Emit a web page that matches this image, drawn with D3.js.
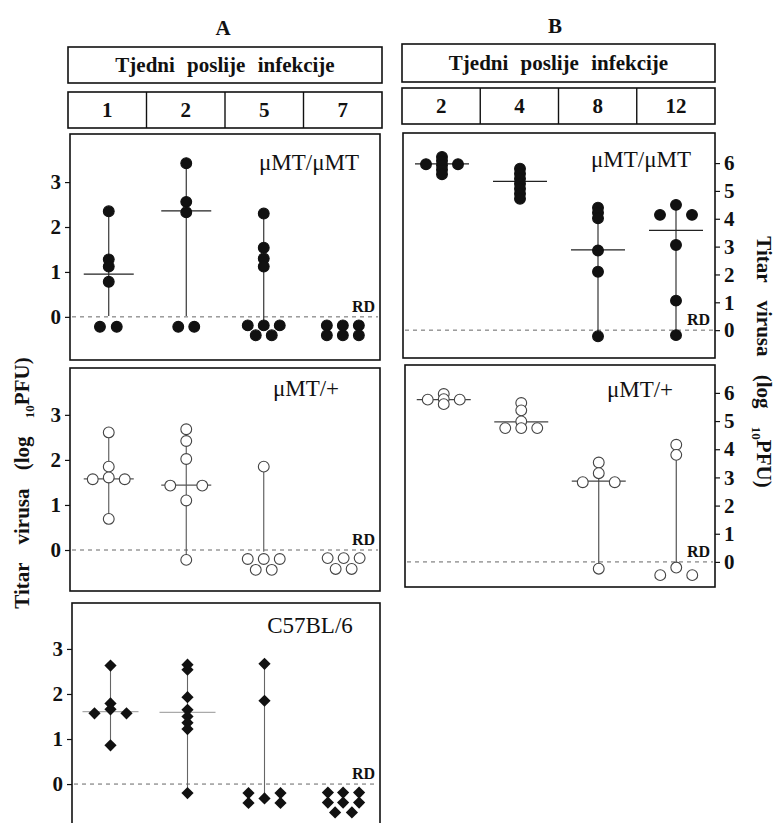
<!DOCTYPE html>
<html><head><meta charset="utf-8">
<script src="https://cdn.jsdelivr.net/npm/d3@7"></script>
<style>
body{margin:0;background:#fff}
svg{display:block}
text{font-family:"Liberation Serif","Times New Roman",serif;fill:#111}
</style>
</head><body>
<svg id="chart" width="779" height="823"></svg>
<script>
// ---------------- data ----------------
const weeksA = ["1", "2", "5", "7"];
const weeksB = ["2", "4", "8", "12"];
const ticksA = [0, 1, 2, 3];
const ticksB = [0, 1, 2, 3, 4, 5, 6];
const headerText = "Tjedni poslije infekcije";

// points: [week, log10 PFU, column offset]
const a1Points = [
  ["1", 2.35, 0], ["1", 1.28, 0], ["1", 1.12, 0], ["1", 0.78, 0], ["1", -0.22, -0.55], ["1", -0.22, 0.5],
  ["2", 3.42, 0], ["2", 2.56, 0], ["2", 2.33, 0], ["2", -0.22, -0.5], ["2", -0.22, 0.5],
  ["5", 2.30, 0], ["5", 1.54, 0], ["5", 1.30, 0], ["5", 1.12, 0],
  ["5", -0.19, -1], ["5", -0.19, 0], ["5", -0.19, 1], ["5", -0.41, -0.5], ["5", -0.41, 0.5],
  ["7", -0.19, -0.9], ["7", -0.19, 0.1], ["7", -0.19, 1.1], ["7", -0.41, -0.9], ["7", -0.41, 0.1], ["7", -0.41, 1.1]
];
const a1Medians = [["1", 0.95], ["2", 2.36]];
const a1Ranges = [["1", 2.35, 0.02], ["2", 3.42, 0.02], ["5", 2.30, -0.19]];

const a2Points = [
  ["1", 2.61, 0], ["1", 1.85, 0], ["1", 1.61, 0], ["1", 1.57, -1], ["1", 1.57, 1], ["1", 0.69, 0],
  ["2", 2.68, 0], ["2", 2.42, 0], ["2", 2.02, 0], ["2", 1.43, -1], ["2", 1.43, 1], ["2", 1.10, 0], ["2", -0.22, 0],
  ["5", 1.85, 0], ["5", -0.20, -1], ["5", -0.20, 0], ["5", -0.20, 1], ["5", -0.44, -0.5], ["5", -0.44, 0.5],
  ["7", -0.18, -0.85], ["7", -0.18, 0.15], ["7", -0.18, 1.15], ["7", -0.42, -0.35], ["7", -0.42, 0.65]
];
const a2Medians = [["1", 1.58], ["2", 1.44]];
const a2Ranges = [["1", 2.61, 0.69], ["2", 2.68, -0.22], ["5", 1.85, -0.04]];

const a3Points = [
  ["1", 2.63, 0], ["1", 1.79, 0], ["1", 1.66, 0], ["1", 1.57, -1], ["1", 1.57, 1], ["1", 0.86, 0],
  ["2", 2.65, 0], ["2", 2.54, 0], ["2", 1.93, 0], ["2", 1.65, 0], ["2", 1.50, 0], ["2", 1.36, 0], ["2", 1.22, 0], ["2", -0.20, 0],
  ["5", 2.67, 0], ["5", 1.85, 0], ["5", -0.20, -1], ["5", -0.42, -1], ["5", -0.32, 0], ["5", -0.20, 1], ["5", -0.42, 1],
  ["7", -0.19, -0.85], ["7", -0.19, 0.1], ["7", -0.19, 1.1], ["7", -0.41, -0.85], ["7", -0.41, 0.1], ["7", -0.41, 1.1],
  ["7", -0.63, -0.4], ["7", -0.63, 0.65]
];
const a3Medians = [["1", 1.61], ["2", 1.59]];
const a3Ranges = [["1", 2.63, 0.86], ["2", 2.65, -0.20], ["5", 2.67, -0.32]];

const b1Points = [
  ["2", 6.22, 0], ["2", 6.08, 0], ["2", 5.92, 0], ["2", 5.76, 0], ["2", 5.60, 0], ["2", 5.96, -1], ["2", 5.96, 1],
  ["4", 5.80, 0], ["4", 5.62, 0], ["4", 5.44, 0], ["4", 5.26, 0], ["4", 5.08, 0], ["4", 4.90, 0], ["4", 4.72, 0],
  ["8", 4.40, 0], ["8", 4.22, 0], ["8", 4.02, 0], ["8", 2.86, 0], ["8", 2.10, 0], ["8", -0.22, 0],
  ["12", 4.50, 0], ["12", 4.14, -1], ["12", 4.14, 1], ["12", 3.06, 0], ["12", 1.06, 0], ["12", -0.18, 0]
];
const b1Medians = [["2", 5.97], ["4", 5.34], ["8", 2.88], ["12", 3.58]];
const b1Ranges = [["8", 4.40, -0.22], ["12", 4.50, -0.18]];

const b2Points = [
  ["2", 5.96, 0], ["2", 5.78, 0], ["2", 5.60, 0], ["2", 5.76, -1], ["2", 5.76, 1],
  ["4", 5.64, 0], ["4", 5.38, 0], ["4", 4.99, 0], ["4", 4.75, 0], ["4", 4.75, -1], ["4", 4.75, 1],
  ["8", 3.53, 0], ["8", 3.15, 0], ["8", 2.83, -1], ["8", 2.83, 1], ["8", -0.24, 0],
  ["12", 4.16, 0], ["12", 3.80, 0], ["12", -0.20, 0], ["12", -0.47, -1], ["12", -0.47, 1]
];
const b2Medians = [["2", 5.76], ["4", 4.97], ["8", 2.87]];
const b2Ranges = [["8", 3.53, -0.24], ["12", 3.80, -0.20]];

// ---------------- layout ----------------
const panels = [
  {weeks: weeksA, x0: 70, x1: 380, y0: 134, y1: 360, dom: [-0.96, 4.07], ticks: ticksA, side: "left",
   label: "\u03bcMT/\u03bcMT", lx: 309, ly: 170, marker: "filled", pts: a1Points, med: a1Medians, rng: a1Ranges, medHW: 25, lineCol: "#222"},
  {weeks: weeksA, x0: 70, x1: 380, y0: 368, y1: 591, dom: [-0.91, 4.04], ticks: ticksA, side: "left",
   label: "\u03bcMT/+", lx: 306, ly: 396, marker: "open", pts: a2Points, med: a2Medians, rng: a2Ranges, medHW: 25, lineCol: "#555"},
  {weeks: weeksA, x0: 72, x1: 380, y0: 603, y1: 830, dom: [-1.02, 4.02], ticks: ticksA, side: "left",
   label: "C57BL/6", lx: 310, ly: 633, marker: "diamond", pts: a3Points, med: a3Medians, rng: a3Ranges, medHW: 28, lineCol: "#666", medCol: "#aaa"},
  {weeks: weeksB, x0: 403, x1: 715, y0: 133, y1: 358, dom: [-1.0, 7.08], ticks: ticksB, side: "right",
   label: "\u03bcMT/\u03bcMT", lx: 641, ly: 167, marker: "filled", pts: b1Points, med: b1Medians, rng: b1Ranges, medHW: 27, lineCol: "#222"},
  {weeks: weeksB, x0: 405, x1: 715, y0: 365, y1: 587, dom: [-0.89, 6.99], ticks: ticksB, side: "right",
   label: "\u03bcMT/+", lx: 640, ly: 397, marker: "open", pts: b2Points, med: b2Medians, rng: b2Ranges, medHW: 27, lineCol: "#444"}
];

const svg = d3.select("#chart");

// titles A / B
svg.append("text").attr("x", 223).attr("y", 35).attr("text-anchor", "middle")
  .attr("font-weight", "bold").attr("font-size", 21).text("A");
svg.append("text").attr("x", 555).attr("y", 33).attr("text-anchor", "middle")
  .attr("font-weight", "bold").attr("font-size", 21).text("B");

// header boxes
const headers = [
  {weeks: weeksA, x0: 68, x1: 382, hy: 47, hh: 36, wy: 92, wh: 36},
  {weeks: weeksB, x0: 402, x1: 715, hy: 44, hh: 38, wy: 88, wh: 36}
];
headers.forEach(h => {
  const g = svg.append("g");
  g.append("rect").attr("x", h.x0).attr("y", h.hy).attr("width", h.x1 - h.x0).attr("height", h.hh)
    .attr("fill", "none").attr("stroke", "#111").attr("stroke-width", 1.6);
  g.append("text").attr("x", (h.x0 + h.x1) / 2).attr("y", h.hy + h.hh / 2 + 7)
    .attr("text-anchor", "middle").attr("font-weight", "bold").attr("font-size", 21)
    .attr("word-spacing", 7).text(headerText);
  g.append("rect").attr("x", h.x0).attr("y", h.wy).attr("width", h.x1 - h.x0).attr("height", h.wh)
    .attr("fill", "none").attr("stroke", "#111").attr("stroke-width", 1.6);
  const xb = d3.scaleBand().domain(h.weeks).range([h.x0, h.x1]);
  h.weeks.slice(1).forEach(w => {
    g.append("line").attr("x1", xb(w)).attr("x2", xb(w)).attr("y1", h.wy).attr("y2", h.wy + h.wh)
      .attr("stroke", "#111").attr("stroke-width", 1.4);
  });
  g.selectAll("text.wk").data(h.weeks).join("text").attr("class", "wk")
    .attr("x", w => xb(w) + xb.bandwidth() / 2).attr("y", h.wy + h.wh / 2 + 7)
    .attr("text-anchor", "middle").attr("font-weight", "bold").attr("font-size", 21).text(w => w);
});

const diamond = d3.symbol().type(d3.symbolDiamond2).size(95);

panels.forEach(p => {
  const g = svg.append("g");
  const x = d3.scaleBand().domain(p.weeks).range([p.x0, p.x1]);
  const xc = w => x(w) + x.bandwidth() / 2;
  const y = d3.scaleLinear().domain(p.dom).range([p.y1, p.y0]);
  const off = d3.scaleLinear().domain([-1, 1]).range([-16, 16]);

  // frame
  g.append("rect").attr("x", p.x0).attr("y", p.y0).attr("width", p.x1 - p.x0).attr("height", p.y1 - p.y0)
    .attr("fill", "none").attr("stroke", "#111").attr("stroke-width", 1.6);

  // axis
  const axis = (p.side === "left" ? d3.axisLeft(y) : d3.axisRight(y))
    .tickValues(p.ticks).tickSize(5).tickPadding(4).tickFormat(d3.format("d"));
  const ag = g.append("g").attr("transform", `translate(${p.side === "left" ? p.x0 : p.x1},0)`).call(axis);
  ag.select(".domain").remove();
  ag.selectAll("line").attr("stroke", "#111").attr("stroke-width", 1.2);
  ag.selectAll("text").attr("font-family", "Liberation Serif, serif").attr("font-weight", "bold")
    .attr("font-size", 21).attr("fill", "#111");

  // RD dashed line
  g.append("line").attr("x1", p.x0 + 2).attr("x2", p.x1 - 2).attr("y1", y(0)).attr("y2", y(0))
    .attr("stroke", "#666").attr("stroke-width", 1).attr("stroke-dasharray", "4,4");
  g.append("text").attr("x", p.x1 - 5).attr("y", y(0) - 5).attr("text-anchor", "end")
    .attr("font-weight", "bold").attr("font-size", 16).text("RD");

  // panel label
  g.append("text").attr("x", p.lx).attr("y", p.ly).attr("text-anchor", "middle")
    .attr("font-size", 23).text(p.label);

  // range lines
  g.selectAll("line.rng").data(p.rng).join("line").attr("class", "rng")
    .attr("x1", d => xc(d[0])).attr("x2", d => xc(d[0]))
    .attr("y1", d => y(d[1])).attr("y2", d => y(d[2]))
    .attr("stroke", p.lineCol).attr("stroke-width", 1.1);

  // median lines
  g.selectAll("line.med").data(p.med).join("line").attr("class", "med")
    .attr("x1", d => xc(d[0]) - p.medHW).attr("x2", d => xc(d[0]) + p.medHW)
    .attr("y1", d => y(d[1])).attr("y2", d => y(d[1]))
    .attr("stroke", p.medCol || p.lineCol).attr("stroke-width", 1.2);

  // markers
  if (p.marker === "diamond") {
    g.selectAll("path.pt").data(p.pts).join("path").attr("class", "pt")
      .attr("d", diamond)
      .attr("transform", d => `translate(${xc(d[0]) + off(d[2])},${y(d[1])})`)
      .attr("fill", "#111");
  } else {
    g.selectAll("circle.pt").data(p.pts).join("circle").attr("class", "pt")
      .attr("cx", d => xc(d[0]) + off(d[2])).attr("cy", d => y(d[1]))
      .attr("r", 5.4)
      .attr("fill", p.marker === "filled" ? "#111" : "#fff")
      .attr("stroke", p.marker === "filled" ? "#111" : "#444")
      .attr("stroke-width", 1.1);
  }
});

// axis titles
function axisTitle(cx, cy, rot) {
  const t = svg.append("text").attr("transform", `translate(${cx},${cy}) rotate(${rot})`)
    .attr("text-anchor", "middle").attr("font-weight", "bold").attr("font-size", 21)
    .attr("word-spacing", 13);
  t.append("tspan").text("Titar virusa (log ");
  t.append("tspan").attr("font-size", 13).attr("dy", 5).text("10");
  t.append("tspan").attr("dy", -5).text("PFU)");
}
axisTitle(29, 483, -90);
axisTitle(757, 362, 90);
</script>
</body></html>
